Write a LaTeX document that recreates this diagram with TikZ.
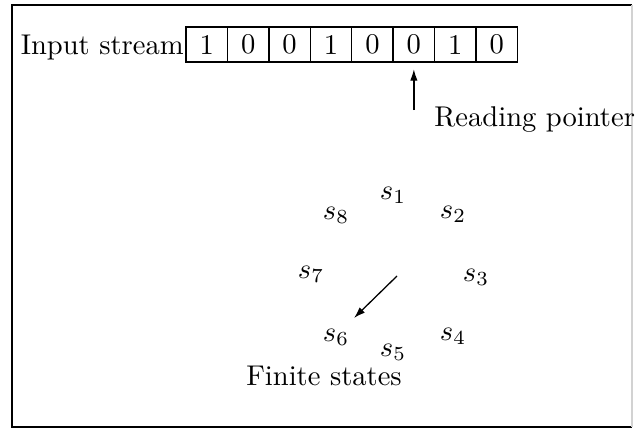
\documentclass[tikz,border=0pt]{standalone}
\usetikzlibrary{arrows.meta}
\begin{document}
\begin{tikzpicture}[x=0.35pt,y=-0.35pt,
  cell/.style={draw,line width=0.5pt,minimum width=14.5pt,minimum height=12.3pt,
    inner sep=0pt,outer sep=0pt,anchor=west},
  lbl/.style={inner sep=1pt},
  st/.style={inner sep=0pt},
  ptr/.style={-{Latex[length=4pt,width=2.6pt]},line width=0.45pt}]
  % page and frame
  \useasboundingbox (0,0) rectangle (635,430);
  \draw[line width=0.7pt] (632,5) -- (12,5) -- (12,427) -- (632,427);
  \draw[line width=0.4pt,gray!35] (632,5) -- (632,427);

  % input tape
  \node[cell] (c1) at (186,44.5) {1};
  \node[cell] (c2) at (c1.east) {0};
  \node[cell] (c3) at (c2.east) {0};
  \node[cell] (c4) at (c3.east) {1};
  \node[cell] (c5) at (c4.east) {0};
  \node[cell] (c6) at (c5.east) {0};
  \node[cell] (c7) at (c6.east) {1};
  \node[cell] (c8) at (c7.east) {0};
  \node[lbl,anchor=south east,inner sep=0.6pt] (in) at (c1.south west) {Input stream};

  % reading pointer
  \node[lbl,anchor=west] (rp) at (431,120) {Reading pointer};
  \coordinate (pb) at (c6.south |- 0,110);
  \draw[ptr,shorten >=2.5pt] (pb) -- (c6.south);

  % states of the machine
  \node[st] (s1) at (393,195) {$s_1$};
  \node[st] (s2) at (453,214) {$s_2$};
  \node[st] (s3) at (476,277) {$s_3$};
  \node[st] (s4) at (453,336) {$s_4$};
  \node[st] (s5) at (393,352) {$s_5$};
  \node[st] (s6) at (336,337) {$s_6$};
  \node[st] (s7) at (311,274) {$s_7$};
  \node[st] (s8) at (336,215) {$s_8$};
  \node[lbl] (fs) at (324,376) {Finite states};

  % current state arrow
  \coordinate (a0) at (397,276);
  \coordinate (a1) at (354,318);
  \draw[ptr] (a0) -- (a1);
\end{tikzpicture}
\end{document}
